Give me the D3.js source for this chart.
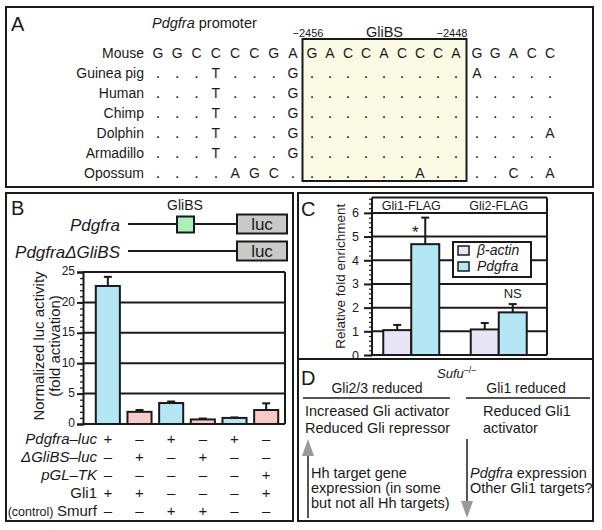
<!DOCTYPE html>
<html>
<head>
<meta charset="utf-8">
<script src="https://cdn.jsdelivr.net/npm/d3@7"></script>
<style>
  body { margin: 0; background: #fff; }
  svg { display: block; font-family: "Liberation Sans", Arial, Helvetica, sans-serif; }
</style>
</head>
<body>
<svg id="fig"></svg>
<script>
// ---- Panel A: promoter alignment ----
const species = ["Mouse", "Guinea pig", "Human", "Chimp", "Dolphin", "Armadillo", "Opossum"];
const alignment = [
  "GGCCCCGAGACCACCCAGGACC",
  "...T...G.........A....",
  "...T...G..............",
  "...T...G..............",
  "...T...G.............A",
  "...T...G..............",
  "....AGC.......A....C.A"
];
const gliStartCol = 8;
const gliEndCol = 16;
const gliPositions = ["\u22122456", "\u22122448"];

// ---- Panel B: luciferase assay ----
const lucRows = ["Pdgfra\u2013luc", "\u0394GliBS\u2013luc", "pGL\u2013TK", "Gli1", "Smurf"];
const lucRowItalic = [true, true, true, false, false];
const lucSigns = [
  ["+", "\u2013", "+", "\u2013", "+", "\u2013"],
  ["\u2013", "+", "\u2013", "+", "\u2013", "\u2013"],
  ["\u2013", "\u2013", "\u2013", "\u2013", "\u2013", "+"],
  ["+", "+", "\u2013", "\u2013", "\u2013", "+"],
  ["\u2013", "\u2013", "+", "+", "\u2013", "\u2013"]
];
const lucValues = [22.7, 2.0, 3.45, 0.75, 1.0, 2.3];
const lucErrors = [1.5, 0.3, 0.25, 0.15, 0.08, 1.1];
const lucTicks = [0, 5, 10, 15, 20, 25];

// ---- Panel C: ChIP ----
const chipGroups = ["Gli1-FLAG", "Gli2-FLAG"];
const chipSeries = ["\u03b2-actin", "Pdgfra"];
const chipValues = [[1.05, 4.68], [1.08, 1.8]];
const chipErrors = [[0.22, 1.12], [0.27, 0.35]];
const chipMarks = [["", "*"], ["", "NS"]];
const chipTicks = [0, 1, 2, 3, 4, 5, 6];

const ink = "#1a1a1a";
const blue = "#b4e6f6";
const pink = "#f9c9c9";
const lavender = "#e8e5f6";

const svg = d3.select("#fig").attr("width", 602).attr("height", 530);

// panel frames + letters
const panels = [
  { name: "A", x: 6, y: 7, w: 587, h: 180, lx: 11, ly: 31 },
  { name: "B", x: 6, y: 193, w: 287, h: 328, lx: 11, ly: 215 },
  { name: "C", x: 298, y: 193, w: 295, h: 166, lx: 301, ly: 216 },
  { name: "D", x: 298, y: 359, w: 295, h: 162, lx: 301, ly: 385 }
];
svg.selectAll("rect.panel")
  .data(panels)
  .enter()
  .append("rect")
  .attr("class", "panel")
  .attr("x", d => d.x).attr("y", d => d.y)
  .attr("width", d => d.w).attr("height", d => d.h)
  .attr("fill", "none").attr("stroke", ink).attr("stroke-width", 2);
svg.selectAll("text.panel-letter")
  .data(panels)
  .enter()
  .append("text")
  .attr("class", "panel-letter")
  .attr("x", d => d.lx).attr("y", d => d.ly)
  .attr("font-size", 20).attr("fill", ink)
  .text(d => d.name);

// ================= Panel A =================
const gA = svg.append("g");
const colX = d3.scaleLinear()
  .domain([0, 7, 8, 16, 17, 21])
  .range([158, 293, 312, 456, 477, 550]);
const rowY = d3.scalePoint().domain(species).range([57.5, 178]);

gA.append("rect")
  .attr("x", colX(gliStartCol - 0.5))
  .attr("y", 39)
  .attr("width", colX(gliEndCol + 0.5) - colX(gliStartCol - 0.5))
  .attr("height", 142)
  .attr("fill", "#fbfbe5")
  .attr("stroke", ink)
  .attr("stroke-width", 2);

gA.append("text")
  .attr("x", 152).attr("y", 28)
  .attr("font-size", 14.5).attr("fill", ink)
  .call(t => {
    t.append("tspan").attr("font-style", "italic").text("Pdgfra");
    t.append("tspan").text(" promoter");
  });

gA.selectAll("text.pos")
  .data(gliPositions)
  .enter()
  .append("text")
  .attr("class", "pos")
  .attr("x", (d, i) => colX(i === 0 ? gliStartCol : gliEndCol) - 4)
  .attr("y", 37)
  .attr("text-anchor", "middle")
  .attr("font-size", 11)
  .attr("fill", ink)
  .text(d => d);

gA.append("text")
  .attr("x", (colX(gliStartCol - 0.5) + colX(gliEndCol + 0.5)) / 2)
  .attr("y", 37)
  .attr("text-anchor", "middle")
  .attr("font-size", 14.5)
  .attr("fill", ink)
  .text("GliBS");

gA.selectAll("text.species")
  .data(species)
  .enter()
  .append("text")
  .attr("class", "species")
  .attr("x", 144)
  .attr("y", d => rowY(d))
  .attr("text-anchor", "end")
  .attr("font-size", 14)
  .attr("fill", ink)
  .text(d => d);

species.forEach((sp, i) => {
  gA.selectAll(null)
    .data(alignment[i].split(""))
    .enter()
    .append("text")
    .attr("x", (d, j) => colX(j))
    .attr("y", rowY(sp))
    .attr("text-anchor", "middle")
    .attr("font-size", d => d === "." ? 16 : 14)
    .attr("fill", ink)
    .text(d => d);
});

// ================= Panel B =================
const gB = svg.append("g");

// construct diagrams
const constructs = [
  { label: "Pdgfra", site: true, y: 224 },
  { label: "Pdgfra\u0394GliBS", site: false, y: 251 }
];
gB.append("text")
  .attr("x", 185).attr("y", 210)
  .attr("text-anchor", "middle")
  .attr("font-size", 14).attr("fill", ink)
  .text("GliBS");
constructs.forEach(c => {
  gB.append("text")
    .attr("x", 120).attr("y", c.y + 7)
    .attr("text-anchor", "end")
    .attr("font-size", 17).attr("font-style", "italic").attr("fill", ink)
    .text(c.label);
  gB.append("line")
    .attr("x1", 128).attr("x2", 237)
    .attr("y1", c.y).attr("y2", c.y)
    .attr("stroke", ink).attr("stroke-width", 2);
  if (c.site) {
    gB.append("rect")
      .attr("x", 177).attr("y", c.y - 7.5)
      .attr("width", 17).attr("height", 16)
      .attr("fill", "#a9f0b9").attr("stroke", ink).attr("stroke-width", 2);
  }
  gB.append("rect")
    .attr("x", 237).attr("y", c.y - 9.5)
    .attr("width", 50).attr("height", 19)
    .attr("fill", "#c9c9c9").attr("stroke", ink).attr("stroke-width", 2);
  gB.append("text")
    .attr("x", 262).attr("y", c.y + 6)
    .attr("text-anchor", "middle")
    .attr("font-size", 17).attr("fill", ink)
    .text("luc");
});

const xB = d3.scaleBand()
  .domain(d3.range(lucValues.length))
  .range([92, 282])
  .paddingInner(0.24)
  .paddingOuter(0.12);
const yB = d3.scaleLinear().domain([0, 25]).range([424, 272]);
const axisXB = 83;
const rightB = 285;

// grid lines incl. top frame and baseline
gB.selectAll("line.grid")
  .data(lucTicks)
  .enter()
  .append("line")
  .attr("class", "grid")
  .attr("x1", axisXB).attr("x2", rightB)
  .attr("y1", d => yB(d)).attr("y2", d => yB(d))
  .attr("stroke", ink).attr("stroke-width", 2);
gB.append("line")
  .attr("x1", rightB).attr("x2", rightB)
  .attr("y1", yB(25)).attr("y2", yB(0))
  .attr("stroke", ink).attr("stroke-width", 2);

gB.selectAll("rect.bar")
  .data(lucValues)
  .enter()
  .append("rect")
  .attr("class", "bar")
  .attr("x", (d, i) => xB(i))
  .attr("y", d => yB(d))
  .attr("width", xB.bandwidth())
  .attr("height", d => yB(0) - yB(d))
  .attr("fill", (d, i) => lucSigns[0][i] === "+" ? blue : pink)
  .attr("stroke", ink)
  .attr("stroke-width", 2);

lucValues.forEach((v, i) => {
  const cx = xB(i) + xB.bandwidth() / 2;
  const top = yB(v + lucErrors[i]);
  gB.append("line")
    .attr("x1", cx).attr("x2", cx)
    .attr("y1", yB(v)).attr("y2", top)
    .attr("stroke", ink).attr("stroke-width", 2);
  gB.append("line")
    .attr("x1", cx - 4).attr("x2", cx + 4)
    .attr("y1", top).attr("y2", top)
    .attr("stroke", ink).attr("stroke-width", 2);
});

const yAxisB = gB.append("g")
  .attr("transform", `translate(${axisXB},0)`)
  .call(d3.axisLeft(yB).tickValues(lucTicks).tickSize(6).tickPadding(2));
yAxisB.selectAll("path, line").attr("stroke", ink).attr("stroke-width", 2);
yAxisB.selectAll("text").attr("font-size", 12).attr("fill", ink).attr("dy", "0.24em")
  .attr("font-family", "'Liberation Sans', Arial, sans-serif");

const minorB = gB.append("g")
  .attr("transform", `translate(${axisXB},0)`)
  .call(d3.axisLeft(yB).tickValues(d3.range(0, 26, 1)).tickSize(3).tickFormat(""));
minorB.select(".domain").remove();
minorB.selectAll("line").attr("stroke", ink).attr("stroke-width", 1.3);

gB.append("text")
  .attr("transform", `translate(44,${(yB(0) + yB(25)) / 2 - 2}) rotate(-90)`)
  .attr("text-anchor", "middle")
  .attr("font-size", 15).attr("fill", ink)
  .text("Normalized luc activity");
gB.append("text")
  .attr("transform", `translate(60,${(yB(0) + yB(25)) / 2 - 2}) rotate(-90)`)
  .attr("text-anchor", "middle")
  .attr("font-size", 15).attr("fill", ink)
  .text("(fold activation)");

// condition table
const rowB = d3.scalePoint().domain(lucRows).range([443.5, 515.5]);
lucRows.forEach((r, ri) => {
  const t = gB.append("text")
    .attr("x", 97).attr("y", rowB(r))
    .attr("text-anchor", "end")
    .attr("font-size", 15).attr("fill", ink);
  if (r === "Smurf") {
    t.append("tspan").attr("font-size", 12.5).text("(control) ");
  }
  t.append("tspan").attr("font-style", lucRowItalic[ri] ? "italic" : "normal").text(r);
  gB.selectAll(null)
    .data(lucSigns[ri])
    .enter()
    .append("text")
    .attr("x", (d, i) => xB(i) + xB.bandwidth() / 2)
    .attr("y", rowB(r))
    .attr("text-anchor", "middle")
    .attr("font-size", 15).attr("fill", ink)
    .text(d => d);
});

// ================= Panel C =================
const gC = svg.append("g");
const x0C = d3.scaleBand().domain(chipGroups).range([367.5, 542.5]).paddingInner(0.36).paddingOuter(0.18);
const x1C = d3.scaleBand().domain(chipSeries).range([0, x0C.bandwidth()]);
const yC = d3.scaleLinear().domain([0, 6.65]).range([355, 197.5]);
const axisXC = 372;
const rightC = 547;
const seriesColor = d3.scaleOrdinal().domain(chipSeries).range([lavender, blue]);

gC.selectAll("line.grid")
  .data(chipTicks.concat([6.65]))
  .enter()
  .append("line")
  .attr("class", "grid")
  .attr("x1", axisXC).attr("x2", rightC)
  .attr("y1", d => yC(d)).attr("y2", d => yC(d))
  .attr("stroke", ink).attr("stroke-width", 2);
gC.append("line")
  .attr("x1", rightC).attr("x2", rightC)
  .attr("y1", yC(6.65)).attr("y2", yC(0))
  .attr("stroke", ink).attr("stroke-width", 2);

gC.selectAll("text.group")
  .data(chipGroups)
  .enter()
  .append("text")
  .attr("class", "group")
  .attr("x", d => x0C(d) + x0C.bandwidth() / 2)
  .attr("y", 210)
  .attr("text-anchor", "middle")
  .attr("font-size", 12.5).attr("fill", ink)
  .text(d => d);

chipGroups.forEach((g, gi) => {
  chipSeries.forEach((s, si) => {
    const v = chipValues[gi][si];
    const e = chipErrors[gi][si];
    const bx = x0C(g) + x1C(s);
    const cx = bx + x1C.bandwidth() / 2;
    gC.append("rect")
      .attr("x", bx).attr("y", yC(v))
      .attr("width", x1C.bandwidth())
      .attr("height", yC(0) - yC(v))
      .attr("fill", seriesColor(s))
      .attr("stroke", ink).attr("stroke-width", 2);
    gC.append("line")
      .attr("x1", cx).attr("x2", cx)
      .attr("y1", yC(v)).attr("y2", yC(v + e))
      .attr("stroke", ink).attr("stroke-width", 2);
    gC.append("line")
      .attr("x1", cx - 4).attr("x2", cx + 4)
      .attr("y1", yC(v + e)).attr("y2", yC(v + e))
      .attr("stroke", ink).attr("stroke-width", 2);
    const mark = chipMarks[gi][si];
    if (mark === "*") {
      gC.append("text")
        .attr("x", cx - 10).attr("y", yC(v + e) + 20)
        .attr("text-anchor", "middle")
        .attr("font-size", 17).attr("fill", ink)
        .text(mark);
    } else if (mark) {
      gC.append("text")
        .attr("x", cx).attr("y", yC(v + e) - 6)
        .attr("text-anchor", "middle")
        .attr("font-size", 13).attr("fill", ink)
        .text(mark);
    }
  });
});

const yAxisC = gC.append("g")
  .attr("transform", `translate(${axisXC},0)`)
  .call(d3.axisLeft(yC).tickValues(chipTicks).tickSize(8).tickPadding(5).tickFormat(d3.format("d")));
yAxisC.select(".domain").attr("d", `M0,${yC(0)}V${yC(6.65)}`);
yAxisC.selectAll("path, line").attr("stroke", ink).attr("stroke-width", 2);
yAxisC.selectAll("text").attr("font-size", 12.5).attr("fill", ink)
  .attr("font-family", "'Liberation Sans', Arial, sans-serif");
const minorC = gC.append("g")
  .attr("transform", `translate(${axisXC},0)`)
  .call(d3.axisLeft(yC).tickValues(d3.range(0, 6.61, 0.2)).tickSize(3).tickFormat(""));
minorC.select(".domain").remove();
minorC.selectAll("line").attr("stroke", ink).attr("stroke-width", 1.2);

gC.append("text")
  .attr("transform", `translate(345,${(yC(0) + yC(6.65)) / 2}) rotate(-90)`)
  .attr("text-anchor", "middle")
  .attr("font-size", 13.5).attr("fill", ink)
  .text("Relative fold enrichment");

// legend
const legC = gC.append("g").attr("transform", "translate(453,242)");
legC.append("rect")
  .attr("width", 78).attr("height", 35)
  .attr("fill", "#fff").attr("stroke", ink).attr("stroke-width", 2);
legC.selectAll("g.item")
  .data(chipSeries)
  .enter()
  .append("g")
  .attr("class", "item")
  .attr("transform", (d, i) => `translate(0,${13 + i * 16})`)
  .call(item => {
    item.append("rect")
      .attr("x", 5).attr("y", -9)
      .attr("width", 11).attr("height", 9)
      .attr("fill", d => seriesColor(d))
      .attr("stroke", ink).attr("stroke-width", 1.5);
    item.append("text")
      .attr("x", 24).attr("y", 0)
      .attr("font-size", 14).attr("font-style", "italic").attr("fill", ink)
      .text(d => d);
  });

// ================= Panel D =================
const gD = svg.append("g");
gD.append("text")
  .attr("x", 437).attr("y", 378)
  .attr("font-size", 13).attr("fill", ink)
  .call(t => {
    t.append("tspan").attr("font-style", "italic").text("Sufu");
    t.append("tspan").attr("font-size", 9).attr("dy", -5).text("\u2013/\u2013");
  });

const columnsD = [
  { head: "Gli2/3 reduced", cx: 377, u0: 303, u1: 450, tx: 305,
    lines: ["Increased Gli activator", "Reduced Gli repressor"],
    sub: [["Hh target gene"], ["expression (in some"], ["but not all Hh targets)"]], sx: 311 },
  { head: "Gli1 reduced", cx: 526, u0: 466, u1: 590, tx: 483,
    lines: ["Reduced Gli1", "activator"],
    sub: [["Pdgfra", " expression"], ["Other Gli1 targets?"]], sx: 470 }
];
columnsD.forEach(c => {
  gD.append("text")
    .attr("x", c.cx).attr("y", 393)
    .attr("text-anchor", "middle")
    .attr("font-size", 14).attr("fill", ink)
    .text(c.head);
  gD.append("line")
    .attr("x1", c.u0).attr("x2", c.u1)
    .attr("y1", 398).attr("y2", 398)
    .attr("stroke", ink).attr("stroke-width", 1.5);
  c.lines.forEach((l, i) => {
    gD.append("text")
      .attr("x", c.tx).attr("y", 416 + i * 17)
      .attr("font-size", 14.5).attr("fill", ink)
      .text(l);
  });
  c.sub.forEach((parts, i) => {
    const t = gD.append("text")
      .attr("x", c.sx).attr("y", 478 + i * 15)
      .attr("font-size", 14.5).attr("fill", ink);
    parts.forEach((p, pi) => {
      t.append("tspan")
        .attr("font-style", parts.length > 1 && pi === 0 ? "italic" : "normal")
        .text(p);
    });
  });
});

// arrows
const arrowShaft = "#555";
const arrowHead = "#9a9a9a";
gD.append("line")
  .attr("x1", 308).attr("x2", 308).attr("y1", 455).attr("y2", 518)
  .attr("stroke", arrowShaft).attr("stroke-width", 2);
gD.append("path")
  .attr("d", "M308,439L302,456L314,456Z")
  .attr("fill", arrowHead);
gD.append("line")
  .attr("x1", 467).attr("x2", 467).attr("y1", 439).attr("y2", 502)
  .attr("stroke", arrowShaft).attr("stroke-width", 2);
gD.append("path")
  .attr("d", "M467,518L461,501L473,501Z")
  .attr("fill", arrowHead);
</script>
</body>
</html>
